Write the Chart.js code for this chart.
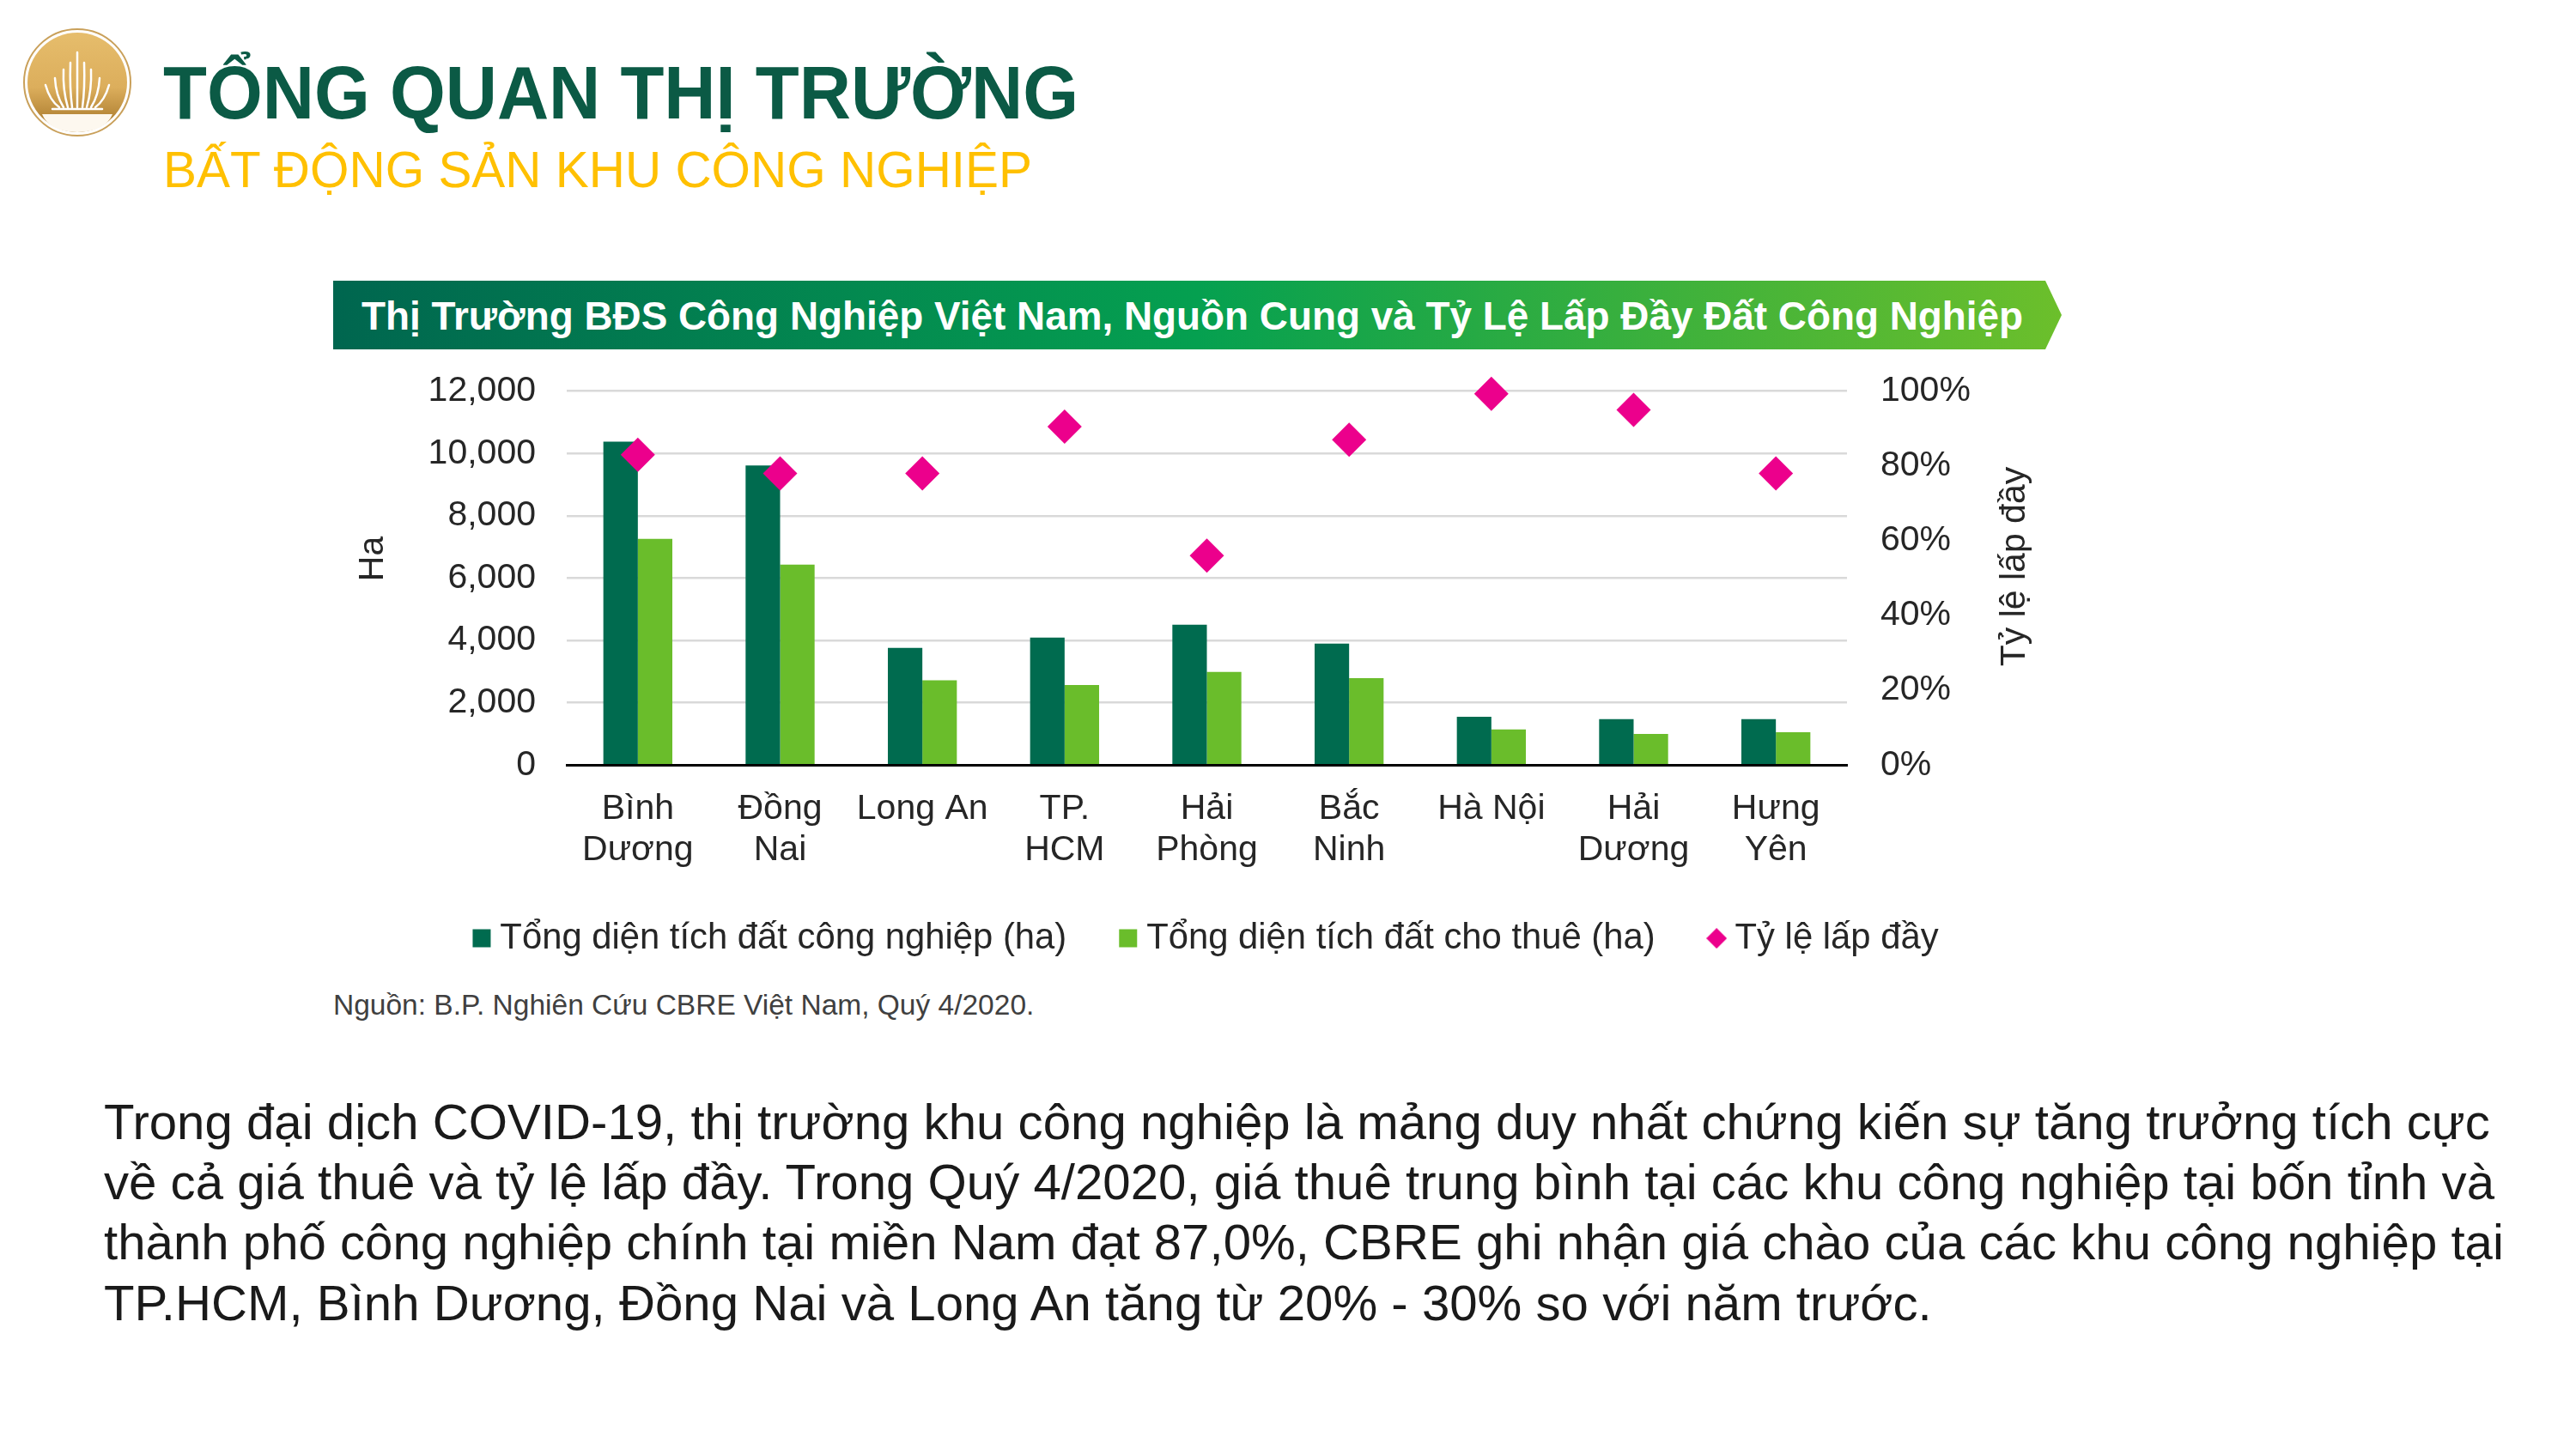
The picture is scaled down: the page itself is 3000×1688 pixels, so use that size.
<!DOCTYPE html>
<html lang="vi">
<head>
<meta charset="utf-8">
<title>Tổng quan thị trường</title>
<script src="https://cdn.jsdelivr.net/npm/chart.js@4"></script>
<style>
    html, body { margin: 0; padding: 0; background: #fff; }
    body { position: relative; width: 3000px; height: 1688px; overflow: hidden; font-family: "Liberation Sans", Arial, sans-serif; }
    .abs { position: absolute; white-space: nowrap; }
    #logo { left: 27px; top: 33px; }
    #title { left: 190px; top: 58px; font-size: 88px; line-height: 100px; font-weight: bold; color: #0b5a45; transform: scaleX(0.947); transform-origin: left; }
    #subtitle { left: 190px; top: 163px; font-size: 60px; line-height: 70px; color: #ffc000; transform: scaleX(0.974); transform-origin: left; }
    #banner {
        left: 388px; top: 327px; width: 2013px; height: 80px; line-height: 83px;
        background: linear-gradient(90deg, #00664f 0%, #05a050 50%, #6cbf2b 100%);
        clip-path: polygon(0 0, 1994px 0, 100% 50%, 1994px 100%, 0 100%);
        color: #fff; font-size: 45.86px; font-weight: bold;
    }
    #banner span { margin-left: 33px; }
    #chartBox { left: 377px; top: 392px; width: 2064px; height: 732px; }
    #source { left: 388px; top: 1151px; font-size: 33.5px; line-height: 40px; color: #404040; }
    #para { left: 121px; top: 1272px; font-size: 58.2px; line-height: 70.2px; color: #1a1a1a; }
</style>
</head>
<body>

<svg id="logo" class="abs" width="126" height="126" viewBox="0 0 126 126">
    <defs>
        <linearGradient id="gold" x1="0" y1="0" x2="0" y2="1">
            <stop offset="0" stop-color="#e6bd6c"/>
            <stop offset="0.55" stop-color="#dcae5c"/>
            <stop offset="0.85" stop-color="#b58638"/>
        </linearGradient>
    </defs>
    <circle cx="63" cy="63" r="62" fill="#fff" stroke="#c9a05a" stroke-width="2"/>
    <circle cx="63" cy="63" r="58" fill="url(#gold)"/>
    <path d="M22 100 H104 Q96 120 63 121 Q30 120 22 100 Z" fill="#fdf8ef"/>
    <g stroke="#fff" stroke-width="2.5" fill="none" stroke-linecap="round">
        <path d="M63 28 V92"/>
        <path d="M55 40 Q54 70 57 92"/>
        <path d="M71 40 Q72 70 69 92"/>
        <path d="M47 48 Q46 72 52 92"/>
        <path d="M79 48 Q80 72 74 92"/>
        <path d="M37 58 Q38 78 47 92"/>
        <path d="M89 58 Q88 78 79 92"/>
        <path d="M26 66 Q31 84 42 92"/>
        <path d="M100 66 Q95 84 84 92"/>
        <path d="M34 94 H92"/>
    </g>
</svg>

<div id="title" class="abs">TỔNG QUAN THỊ TRƯỜNG</div>
<div id="subtitle" class="abs">BẤT ĐỘNG SẢN KHU CÔNG NGHIỆP</div>
<div id="banner" class="abs"><span>Thị Trường BĐS Công Nghiệp Việt Nam, Nguồn Cung và Tỷ Lệ Lấp Đầy Đất Công Nghiệp</span></div>

<div id="chartBox" class="abs"><canvas id="landChart" width="2064" height="732"></canvas></div>

<div id="source" class="abs">Nguồn: B.P. Nghiên Cứu CBRE Việt Nam, Quý 4/2020.</div>
<div id="para" class="abs">Trong đại dịch COVID-19, thị trường khu công nghiệp là mảng duy nhất chứng kiến sự tăng trưởng tích cực<br>về cả giá thuê và tỷ lệ lấp đầy. Trong Quý 4/2020, giá thuê trung bình tại các khu công nghiệp tại bốn tỉnh và<br>thành phố công nghiệp chính tại miền Nam đạt 87,0%, CBRE ghi nhận giá chào của các khu công nghiệp tại<br>TP.HCM, Bình Dương, Đồng Nai và Long An tăng từ 20% - 30% so với năm trước.</div>

<script>
// chart data
const categories = [['Bình', 'Dương'], ['Đồng', 'Nai'], 'Long An', ['TP.', 'HCM'], ['Hải', 'Phòng'], ['Bắc', 'Ninh'], 'Hà Nội', ['Hải', 'Dương'], ['Hưng', 'Yên']];
const totalLand = [10380, 9610, 3760, 4090, 4500, 3900, 1550, 1470, 1470];
const leasedLand = [7260, 6430, 2720, 2570, 2990, 2790, 1140, 1000, 1050];
const occupancy = [83, 78, 78, 90.5, 56, 87, 99.3, 95, 78];

const fontName = '"Liberation Sans", Arial, sans-serif';
const textColor = '#262626';
const diamondColor = '#ec008c';

Chart.defaults.font.family = fontName;
Chart.defaults.color = textColor;

// small diamond for the legend, the built in one comes out too big next to the squares
const legendDiamond = document.createElement('canvas');
legendDiamond.width = 24;
legendDiamond.height = 24;
const diamondCtx = legendDiamond.getContext('2d');
diamondCtx.fillStyle = diamondColor;
diamondCtx.beginPath();
diamondCtx.moveTo(12, 0);
diamondCtx.lineTo(24, 12);
diamondCtx.lineTo(12, 24);
diamondCtx.lineTo(0, 12);
diamondCtx.closePath();
diamondCtx.fill();

const chartTweaks = {
    id: 'chartTweaks',
    // two line category labels run a little past the x scale box and get clipped otherwise
    afterLayout(chart) {
        chart.scales.x.bottom += 26;
    },
    // both axis titles read bottom to top and sit a bit above the middle, scale titles can't do that
    afterDraw(chart) {
        const ctx = chart.ctx;
        const titles = [['Ha', 58, 259], ['Tỷ lệ lấp đầy', 1970, 268]];
        ctx.save();
        ctx.font = '41px ' + fontName;
        ctx.fillStyle = textColor;
        ctx.textAlign = 'center';
        ctx.textBaseline = 'middle';
        titles.forEach(function (t) {
            ctx.save();
            ctx.translate(t[1], t[2]);
            ctx.rotate(-Math.PI / 2);
            ctx.fillText(t[0], 0, 0);
            ctx.restore();
        });
        ctx.restore();
    }
};

const landChart = new Chart(document.getElementById('landChart').getContext('2d'), {
    type: 'bar',
    plugins: [chartTweaks],
    data: {
        labels: categories,
        datasets: [
            {
                label: 'Tổng diện tích đất công nghiệp (ha)',
                data: totalLand,
                backgroundColor: '#006b4f',
                pointStyle: 'rect',
                yAxisID: 'y',
                order: 1
            },
            {
                label: 'Tổng diện tích đất cho thuê (ha)',
                data: leasedLand,
                backgroundColor: '#6abd2b',
                pointStyle: 'rect',
                yAxisID: 'y',
                order: 2
            },
            {
                type: 'line',
                label: 'Tỷ lệ lấp đầy',
                data: occupancy,
                showLine: false,
                clip: false,
                pointStyle: 'rectRot',
                pointRadius: 20,
                pointHoverRadius: 20,
                borderWidth: 0,
                pointBorderWidth: 0,
                backgroundColor: diamondColor,
                yAxisID: 'y1',
                order: 0
            }
        ]
    },
    options: {
        responsive: false,
        animation: false,
        layout: { padding: 0 },
        plugins: {
            tooltip: { enabled: false },
            legend: {
                position: 'bottom',
                labels: {
                    usePointStyle: true,
                    boxWidth: 1,
                    boxHeight: 21,
                    padding: 71,
                    font: { size: 41.8 },
                    color: textColor,
                    sort: (a, b) => a.datasetIndex - b.datasetIndex,
                    generateLabels: function (chart) {
                        const items = Chart.defaults.plugins.legend.labels.generateLabels(chart);
                        items.forEach(function (item) {
                            if (item.datasetIndex === 2) item.pointStyle = legendDiamond;
                        });
                        return items;
                    }
                }
            }
        },
        datasets: { bar: { categoryPercentage: 0.485, barPercentage: 1 } },
        scales: {
            x: {
                grid: { display: false },
                border: { color: '#000', width: 3 },
                ticks: {
                    autoSkip: false,
                    maxRotation: 0,
                    padding: 20,
                    font: { size: 41, lineHeight: 1.17 },
                    color: textColor
                },
                afterFit: (scale) => { scale.height = 110; }
            },
            y: {
                position: 'left',
                min: 0,
                max: 12000,
                grid: { color: '#d9d9d9', lineWidth: 2.5, drawTicks: false },
                border: { display: false },
                ticks: {
                    stepSize: 2000,
                    padding: 36,
                    font: { size: 41 },
                    color: textColor,
                    callback: (v) => v.toLocaleString('en-US')
                },
                afterFit: (scale) => { scale.width = 283; }
            },
            y1: {
                position: 'right',
                min: 0,
                max: 100,
                grid: { display: false, drawTicks: false },
                border: { display: false },
                ticks: {
                    stepSize: 20,
                    padding: 39,
                    font: { size: 41 },
                    color: textColor,
                    callback: (v) => v + '%'
                },
                afterFit: (scale) => { scale.width = 290; }
            }
        }
    }
});
</script>
</body>
</html>
